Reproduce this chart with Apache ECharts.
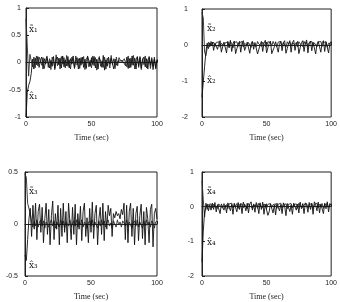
<!DOCTYPE html>
<html lang="en">
  <head>
    <meta charset="UTF-8" />
    <title>State estimates</title>
    <script src="https://cdn.jsdelivr.net/npm/echarts@6.0.0/dist/echarts.min.js"></script>
    <style>
      html, body { margin: 0; padding: 0; background: #fff; }
      #main { width: 340px; height: 302px; }
    </style>
  </head>
  <body>
    <div id="main"></div>
    <script type="text/javascript">
      // samples are one second apart, index = time (sec)
      var x1Tilde = [
        0.8, 0.3, -0.25, 0.15, 0.12, -0.08, 0.1, -0.1, 0.12, -0.06,
        0.1, 0.13, -0.05, 0.09, -0.11, 0.04, 0.12, -0.09, 0.07, -0.13,
        0.1, 0.02, -0.1, 0.14, -0.06, 0.08, -0.12, 0.11, -0.03, 0.09,
        -0.1, 0.13, -0.07, 0.05, -0.12, 0.1, 0.03, -0.09, 0.12, -0.05,
        0.07, -0.11, 0.09, -0.02, 0.11, -0.13, 0.06, 0.1, -0.08, 0.04,
        -0.1, 0.12, -0.06, 0.09, -0.14, 0.05, 0.11, -0.07, 0.03, -0.09,
        0.1, -0.12, 0.08, 0.02, -0.1, 0.13, -0.04, 0.07, -0.11, 0.1,
        -0.06, 0.09, 0.04, 0.06, 0.03, 0.07, 0.05, -0.08, 0.12, -0.1,
        0.08, -0.05, 0.13, -0.12, 0.06, 0.1, -0.09, 0.11, -0.13, 0.07,
        -0.04, 0.12, -0.1, 0.05, 0.09, -0.11, 0.06, -0.07, 0.1, -0.12, 0.04
      ];
      var x1Hat = [
        -1.0, -0.55, -0.42, -0.35, -0.2, 0.06, -0.12, 0.08, -0.04, 0.11,
        -0.09, 0.05, 0.1, -0.12, 0.07, -0.03, 0.09, 0.12, -0.1, 0.04,
        -0.07, 0.11, -0.13, 0.06, 0.1, -0.04, 0.08, -0.1, 0.12, -0.08,
        0.05, -0.06, 0.11, -0.1, 0.07, -0.03, 0.12, -0.11, 0.04, 0.09,
        -0.12, 0.08, -0.05, 0.1, -0.09, 0.06, -0.11, 0.12, 0.03, -0.07,
        0.09, -0.04, 0.11, -0.1, 0.06, -0.12, 0.08, 0.02, -0.09, 0.13,
        -0.14, 0.05, -0.07, 0.1, -0.03, 0.08, 0.11, -0.12, 0.06, -0.05,
        0.02, 0.05, 0.03, 0.06, 0.02, 0.04, -0.06, 0.1, -0.11, 0.07,
        -0.09, 0.12, -0.05, 0.08, -0.12, 0.11, -0.06, 0.09, -0.1, 0.05,
        0.1, -0.08, 0.07, -0.12, 0.11, -0.05, 0.09, -0.13, 0.06, -0.09, 0.05
      ];
      var x2Tilde = [
        0.9, 0.75, -0.2, -0.3, -0.1, 0.08, -0.05, 0.1, 0.02, 0.08,
        -0.04, 0.07, 0.03, 0.09, -0.06, 0.05, 0.1, -0.03, 0.06, 0.02,
        0.08, -0.05, 0.1, 0.04, -0.08, 0.07, 0.02, 0.09, -0.04, 0.06,
        0.03, 0.1, -0.06, 0.05, 0.08, -0.02, 0.07, 0.04, -0.07, 0.09,
        0.02, 0.06, -0.05, 0.1, 0.03, 0.07, -0.04, 0.08, 0.01, 0.06,
        -0.06, 0.09, 0.04, 0.07, -0.03, 0.1, 0.02, 0.06, -0.05, 0.08,
        0.03, 0.1, -0.04, 0.07, 0.05, -0.06, 0.09, 0.02, 0.08, -0.03,
        0.06, 0.1, 0.01, 0.07, -0.05, 0.09, 0.03, 0.06, -0.04, 0.1,
        0.02, 0.08, -0.06, 0.07, 0.04, 0.1, -0.03, 0.06, 0.09, -0.05,
        0.08, 0.03, 0.1, -0.04, 0.07, 0.02, 0.09, -0.06, 0.05, 0.08, 0.02
      ];
      var x2Hat = [
        -1.45, -1.5, -0.6, -0.2, 0.05, -0.1, 0.06, -0.02, 0.08, -0.15,
        0.05, 0.1, -0.12, 0.02, 0.12, -0.2, -0.05, 0.08, 0.12, -0.22,
        0.1, -0.08, 0.13, -0.18, 0.04, 0.11, -0.24, -0.1, 0.02, 0.1,
        -0.2, 0.06, 0.12, -0.15, -0.05, 0.08, 0.13, -0.23, 0.03, 0.1,
        -0.12, 0.07, 0.12, -0.25, -0.12, 0.0, 0.1, -0.18, 0.05, 0.13,
        -0.22, -0.08, 0.04, 0.11, -0.24, -0.2, -0.05, 0.09, 0.14, -0.2,
        0.02, 0.1, -0.16, 0.06, 0.12, -0.23, -0.1, 0.04, 0.12, -0.2,
        0.07, 0.13, -0.15, 0.03, 0.1, -0.24, -0.08, 0.06, 0.12, -0.18,
        0.04, 0.14, -0.22, 0.05, 0.11, -0.16, 0.08, 0.13, -0.25, 0.02,
        0.1, 0.15, -0.2, 0.06, 0.12, -0.18, 0.09, 0.14, -0.22, 0.05, 0.1
      ];
      var x3Tilde = [
        0.48, 0.45, 0.2, 0.19, 0.1, 0.02, -0.03, 0.03, -0.02, 0.04,
        -0.03, 0.02, 0.04, -0.02, 0.03, -0.04, 0.02, 0.03, -0.03, 0.01,
        0.04, -0.02, 0.03, -0.04, 0.02, 0.01, -0.03, 0.04, -0.01, 0.03,
        -0.04, 0.02, 0.03, -0.02, 0.04, -0.03, 0.01, 0.03, -0.02, 0.04,
        -0.03, 0.02, -0.01, 0.04, -0.03, 0.02, 0.03, -0.04, 0.01, 0.03,
        -0.02, 0.04, -0.03, 0.02, 0.01, -0.04, 0.03, -0.02, 0.04, -0.01,
        0.03, -0.03, 0.02, 0.04, -0.02, 0.01, -0.04, 0.03, 0.02, -0.03,
        0.04, -0.01, 0.02, -0.03, 0.03, 0.01, -0.02, 0.04, -0.03, 0.02,
        0.03, -0.04, 0.01, 0.03, -0.02, 0.04, -0.03, 0.02, 0.01, -0.04,
        0.03, -0.02, 0.04, -0.01, 0.02, -0.03, 0.03, 0.01, -0.04, 0.02, 0.03
      ];
      var x3Hat = [
        -0.3, -0.35, -0.15, 0.05, 0.15, -0.12, 0.18, -0.05, 0.2, -0.15,
        0.12, 0.19, -0.08, 0.16, -0.18, 0.05, 0.2, -0.1, 0.14, -0.2,
        0.08, 0.22, -0.15, 0.1, -0.05, 0.18, -0.2, 0.15, -0.12, 0.2,
        -0.08, 0.12, -0.18, 0.2, 0.02, -0.15, 0.16, -0.1, 0.19, -0.2,
        0.1, -0.05, 0.17, -0.16, 0.12, 0.2, -0.12, 0.06, -0.18, 0.15,
        -0.08, 0.21, -0.14, 0.1, 0.18, -0.2, 0.05, 0.16, -0.1, 0.2,
        -0.16, 0.12, -0.05, 0.18, 0.08, 0.15, -0.12, 0.1, 0.06, 0.12,
        0.08, 0.1, 0.05, 0.14, 0.09, 0.2, -0.15, 0.18, -0.18, 0.12,
        0.2, -0.12, 0.15, -0.2, 0.1, 0.17, -0.16, 0.08, 0.19, -0.14,
        0.12, -0.2, 0.16, 0.05, -0.18, 0.14, 0.19, -0.22, 0.1, 0.15, 0.05
      ];
      var x4Tilde = [
        0.75, 0.2, -0.3, 0.1, -0.08, 0.06, 0.02, 0.08, -0.03, 0.07,
        0.01, 0.06, -0.05, 0.08, 0.02, 0.05, -0.04, 0.09, 0.0, 0.06,
        -0.06, 0.08, 0.03, 0.1, -0.04, 0.07, 0.01, 0.09, -0.05, 0.06,
        0.02, 0.08, -0.03, 0.07, 0.04, -0.06, 0.09, 0.02, 0.06, -0.04,
        0.08, 0.01, 0.07, -0.05, 0.1, 0.03, 0.06, -0.03, 0.08, 0.02,
        -0.06, 0.07, 0.04, 0.09, -0.02, 0.06, 0.01, 0.08, -0.05, 0.07,
        0.03, 0.1, -0.04, 0.06, 0.02, 0.08, -0.06, 0.07, 0.04, 0.09,
        -0.03, 0.06, 0.01, 0.08, -0.05, 0.1, 0.03, 0.07, -0.02, 0.06,
        0.04, 0.09, -0.04, 0.07, 0.02, 0.08, -0.06, 0.06, 0.03, 0.1,
        -0.03, 0.07, 0.01, 0.09, -0.05, 0.06, 0.04, 0.08, -0.02, 0.07, 0.03
      ];
      var x4Hat = [
        -1.6, -0.7, -0.15, -0.2, 0.08, -0.12, 0.05, -0.1, 0.1, -0.08,
        0.12, -0.15, 0.06, 0.1, -0.2, 0.08, 0.13, -0.1, 0.04, -0.18,
        0.11, 0.14, -0.12, 0.07, -0.22, 0.1, 0.05, -0.15, 0.12, -0.08,
        0.09, -0.2, 0.13, 0.02, -0.12, 0.1, -0.18, 0.08, 0.14, -0.1,
        0.06, -0.16, 0.12, 0.03, -0.2, 0.11, -0.08, 0.13, -0.22, 0.07,
        0.1, -0.25, -0.15, 0.08, 0.12, -0.18, 0.05, -0.24, 0.1, 0.14,
        -0.12, 0.06, -0.2, 0.11, 0.02, -0.26, 0.09, 0.13, -0.14, 0.05,
        -0.22, 0.1, 0.12, -0.1, 0.07, -0.18, 0.13, -0.06, 0.09, -0.2,
        0.11, 0.04, -0.16, 0.12, -0.08, 0.1, -0.22, 0.14, 0.06, -0.12,
        0.13, -0.18, 0.08, 0.12, -0.2, 0.1, -0.06, 0.14, -0.15, 0.09, 0.05
      ];

      var xTicks = [0, 50, 100];
      var yRanges = [[-1, 1, 0.5], [-2, 1, 1], [-0.5, 0.5, 0.5], [-2, 1, 1]];
      var tildeLabels = ["x\u0303\u2081", "x\u0303\u2082", "x\u0303\u2083", "x\u0303\u2084"];
      var hatLabels = ["x\u0302\u2081", "x\u0302\u2082", "x\u0302\u2083", "x\u0302\u2084"];

      var panels = [
        { grid: { left: 26, top: 8, width: 131, height: 109 }, a: x1Tilde, b: x1Hat, labelGap: 5 },
        { grid: { left: 202, top: 9, width: 134, height: 108 }, a: x2Tilde, b: x2Hat, labelGap: 14 },
        { grid: { left: 25, top: 172, width: 132, height: 109 }, a: x3Tilde, b: x3Hat, labelGap: 7 },
        { grid: { left: 202, top: 172, width: 135, height: 109 }, a: x4Tilde, b: x4Hat, labelGap: 8 }
      ];

      function pairs(arr) {
        return arr.map(function (v, i) { return [i, v]; });
      }

      var grids = [], xAxes = [], yAxes = [], series = [];
      panels.forEach(function (p, k) {
        grids.push(Object.assign({ show: true, borderColor: "#222", borderWidth: 1, backgroundColor: "#fff" }, p.grid));
        xAxes.push({
          type: "value", gridIndex: k, min: xTicks[0], max: xTicks[2], interval: 50,
          name: "Time (sec)", nameLocation: "middle", nameGap: 17,
          nameTextStyle: { fontFamily: "Liberation Serif", fontSize: 8, color: "#222" },
          axisLine: { lineStyle: { color: "#222" } },
          axisTick: { inside: true, length: 3, lineStyle: { color: "#222" } },
          axisLabel: { fontFamily: "Liberation Sans", fontSize: 7, color: "#222", margin: 4 },
          splitLine: { show: false }
        });
        yAxes.push({
          type: "value", gridIndex: k, min: yRanges[k][0], max: yRanges[k][1], interval: yRanges[k][2],
          axisLine: { lineStyle: { color: "#222" } },
          axisTick: { inside: true, length: 3, lineStyle: { color: "#222" } },
          axisLabel: { fontFamily: "Liberation Sans", fontSize: 7, color: "#222", margin: p.labelGap },
          splitLine: { show: false }
        });
        series.push({
          type: "line", xAxisIndex: k, yAxisIndex: k, data: pairs(p.a), showSymbol: false,
          lineStyle: { color: "#2a2a2a", width: 0.9 }, animation: false
        });
        series.push({
          type: "line", xAxisIndex: k, yAxisIndex: k, data: pairs(p.b), showSymbol: false,
          lineStyle: { color: "#111", width: 0.9 }, animation: false
        });
      });

      // curve labels next to the transients
      var labelSpots = [[29, 25, 29, 92], [207, 24, 207, 76], [29, 187, 29, 261], [207, 187, 207, 238]];
      var graphics = [];
      labelSpots.forEach(function (s, k) {
        var st = { fontFamily: "DejaVu Serif", fontSize: 9, fill: "#222" };
        graphics.push({ type: "text", left: s[0], top: s[1], style: Object.assign({ text: tildeLabels[k] }, st) });
        graphics.push({ type: "text", left: s[2], top: s[3], style: Object.assign({ text: hatLabels[k] }, st) });
      });

      var chart = echarts.init(document.getElementById("main"));
      chart.setOption({
        backgroundColor: "#fff",
        animation: false,
        grid: grids,
        xAxis: xAxes,
        yAxis: yAxes,
        series: series,
        graphic: graphics
      });
    </script>
  </body>
</html>
